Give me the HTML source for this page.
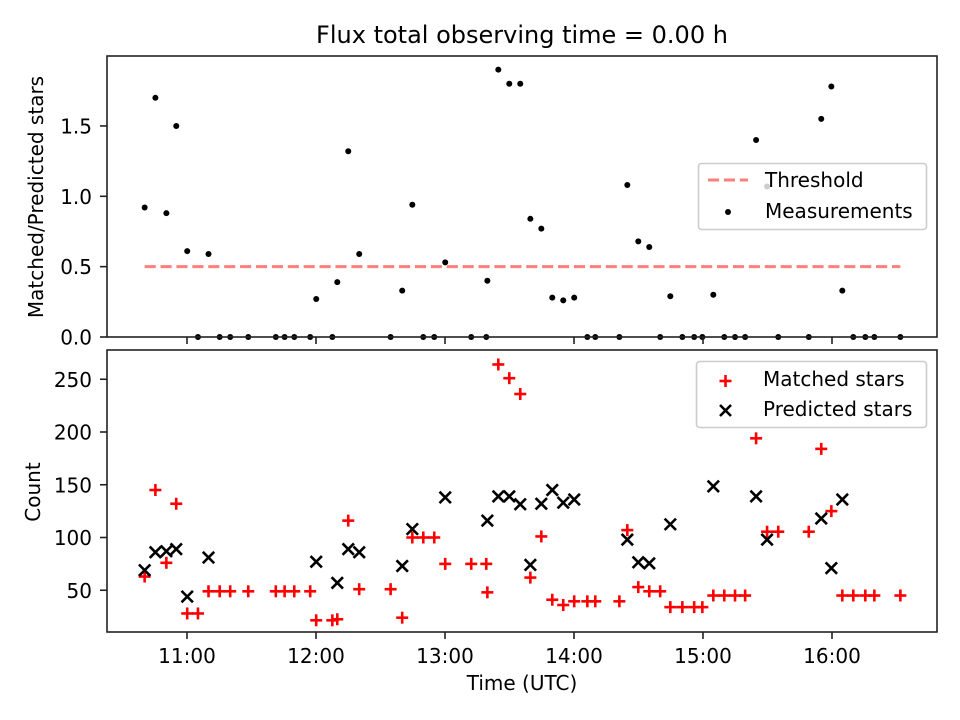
<!DOCTYPE html>
<html><head><meta charset="utf-8"><style>
html,body{margin:0;padding:0;background:#fff}
svg{display:block;font-family:"DejaVu Sans","Liberation Sans",sans-serif}
</style></head><body>
<div style="position:relative;width:960px;height:720px">
<svg id="fig" width="960" height="720" viewBox="0 0 960 720" style="position:absolute;left:0;top:0">
<rect x="0" y="0" width="960" height="720" fill="#fff"/>
<text x="522" y="43" font-size="24" text-anchor="middle" fill="#000">Flux total observing time = 0.00 h</text>
<g id="topPanel"></g>
<g id="botPanel"></g>
<g font-size="20">
<text x="43" y="197" text-anchor="middle" transform="rotate(-90 43 197)">Matched/Predicted stars</text>
<text x="40" y="492" text-anchor="middle" transform="rotate(-90 40 492)">Count</text>
<text x="522" y="690" text-anchor="middle">Time (UTC)</text>
<g>
<rect x="698.5" y="163.5" width="228" height="66" rx="3" fill="#fff" fill-opacity="0.8" stroke="#ccc" stroke-width="1.6"/>
<line x1="708" x2="748" y1="180" y2="180" stroke="#ff7f7f" stroke-width="3" stroke-dasharray="11.1,4.8"/>
<text x="765" y="187">Threshold</text>
<circle cx="728" cy="212" r="3" fill="#000"/>
<text x="765" y="218">Measurements</text>
</g>
<g>
<rect x="696.5" y="361.5" width="230" height="66" rx="3" fill="#fff" fill-opacity="0.8" stroke="#ccc" stroke-width="1.6"/>
<g stroke="#f00" stroke-width="2.6"><line x1="719.5" x2="731.5" y1="381" y2="381"/><line x1="725.5" x2="725.5" y1="375" y2="387"/></g>
<text x="763" y="386">Matched stars</text>
<g stroke="#000" stroke-width="2.6"><line x1="720" x2="731" y1="405" y2="416"/><line x1="720" x2="731" y1="416" y2="405"/></g>
<text x="763" y="416">Predicted stars</text>
</g>
</g>
</svg>
</div>
<script>
// minutes since midnight
const ratioTimes=[640.3,645.3,650.4,655,660.1,665.1,670,675.2,680.1,688.5,701.3,705.4,709.9,717.3,720.1,727.6,729.9,735,740.1,754.7,760.1,764.8,769.9,775,780.1,792.2,799.2,799.7,804.8,809.9,815,819.7,824.8,829.9,835,840.1,846.2,849.9,861.1,864.8,869.9,875,880.1,884.8,890.4,895.9,899.7,904.8,909.9,914.9,919.6,924.7,929.8,935,949.2,955,959.7,964.8,969.9,975.5,979.7,991.8];
const ratioValues=[0.92,1.70,0.88,1.50,0.61,0,0.59,0,0,0,0,0,0,0,0.27,0,0.39,1.32,0.59,0,0.33,0.94,0,0,0.53,0,0,0.40,1.90,1.80,1.80,0.84,0.77,0.28,0.26,0.28,0,0,0,1.08,0.68,0.64,0,0.29,0,0,0,0.30,0,0,0,1.40,1.07,0,0,1.55,1.78,0.33,0,0,0,0];
const threshold=0.5;
const matchedTimes=[640.3,645.3,650.4,655,660.1,665.1,670,675.2,680.1,688.5,701.3,705.4,709.9,717.3,720.1,727.6,729.9,735,740.1,754.7,760.1,764.8,769.9,775,780.1,792.2,799.2,799.7,804.8,809.9,815,819.7,824.8,829.9,835,840.1,846.2,849.9,861.1,864.8,869.9,875,880.1,884.8,890.4,895.9,899.7,904.8,909.9,914.9,919.6,924.7,929.8,935,949.2,955,959.7,964.8,969.9,975.5,979.7,991.8];
const matchedValues=[63,145,76,132,28,28,49,49,49,49,49,49,49,49,21.5,21.5,22.5,116,51,51,24,100,100,100,75,75,75,48,264,251,236,62,101,41,36,39.5,39.5,39.5,39.5,107,53,49,49,34,34,34,34,45,45,45,45,194,105.5,105.5,105.5,184,125,45,45,45,45,45];
const predTimes=[640.3,645.3,650.4,655,660.1,670,720.1,729.9,735,740.1,760.1,764.8,780.1,799.7,804.8,809.9,815,819.7,824.8,829.9,835,840.1,864.8,869.9,875,884.8,904.8,924.7,929.8,955,959.7,964.8];
const predValues=[69,86,87,89,44,81,77,57,89,86,73,108,138,116,139,139,131.5,74,132,145,133,136,98,76.5,75.5,112.5,148.5,139,98,118,71,136];
const ratioTicks=[0,0.5,1.0,1.5];
const ratioTickLabels=["0.0","0.5","1.0","1.5"];
const countTicks=[50,100,150,200,250];
const timeTicks=[660,720,780,840,900,960];
const timeTickLabels=["11:00","12:00","13:00","14:00","15:00","16:00"];

const NS="http://www.w3.org/2000/svg";
const L=107,R=937;
const xS=m=>187+(m-660)*129/60;
const yTop=v=>337-v*140.7;
const yBot=v=>643-v*1.055;
function mk(p,tag,at){const e=document.createElementNS(NS,tag);for(const k in at)e.setAttribute(k,at[k]);p.appendChild(e);return e;}
const topG=document.getElementById('topPanel'),botG=document.getElementById('botPanel');

let th=mk(topG,'line',{x1:xS(640.3),x2:xS(991.8),y1:yTop(threshold),y2:yTop(threshold),stroke:'#ff7f7f','stroke-width':3,'stroke-dasharray':'11.1,4.8'});


ratioTimes.forEach((t,i)=>{
 const c=mk(topG,'circle',{cx:xS(t),cy:yTop(ratioValues[i]),r:3,fill:'#000'});
 
 
});
function plus(p,x,y){const g=mk(p,'g',{stroke:'#f00','stroke-width':2.6});mk(g,'line',{x1:x-6,x2:x+6,y1:y,y2:y});mk(g,'line',{x1:x,x2:x,y1:y-6,y2:y+6});return g;}
function cross(p,x,y){const g=mk(p,'g',{stroke:'#000','stroke-width':2.6});mk(g,'line',{x1:x-5.7,x2:x+5.7,y1:y-5.7,y2:y+5.7});mk(g,'line',{x1:x-5.7,x2:x+5.7,y1:y+5.7,y2:y-5.7});return g;}
matchedTimes.forEach((t,i)=>{
 const g=plus(botG,xS(t),yBot(matchedValues[i]));
 
 
});
predTimes.forEach((t,i)=>{
 const g=cross(botG,xS(t),yBot(predValues[i]));
 
 
});

let f1=mk(topG,'rect',{x:L,y:56,width:R-L,height:281,fill:'none',stroke:'#222','stroke-width':1.6});


let f2=mk(botG,'rect',{x:L,y:350,width:R-L,height:282,fill:'none',stroke:'#222','stroke-width':1.6});



ratioTicks.forEach((v,i)=>{
 const y=yTop(v);
 mk(topG,'line',{x1:L-7,x2:L,y1:y,y2:y,stroke:'#222','stroke-width':1.6});
 const t=mk(topG,'text',{x:L-15,y:y+7.5,'font-size':20,'text-anchor':'end'});t.textContent=ratioTickLabels[i];
 
 
});
countTicks.forEach(v=>{
 const y=yBot(v);
 mk(botG,'line',{x1:L-7,x2:L,y1:y,y2:y,stroke:'#222','stroke-width':1.6});
 const t=mk(botG,'text',{x:L-15,y:y+7.5,'font-size':20,'text-anchor':'end'});t.textContent=String(v);
 
 
});
timeTicks.forEach((m,i)=>{
 const x=xS(m);
 mk(topG,'line',{x1:x,x2:x,y1:337,y2:344,stroke:'#222','stroke-width':1.6});
 mk(botG,'line',{x1:x,x2:x,y1:632,y2:639,stroke:'#222','stroke-width':1.6});
 const t=mk(botG,'text',{x:x,y:663,'font-size':20,'text-anchor':'middle'});t.textContent=timeTickLabels[i];
 
 
});
</script>
</body></html>
